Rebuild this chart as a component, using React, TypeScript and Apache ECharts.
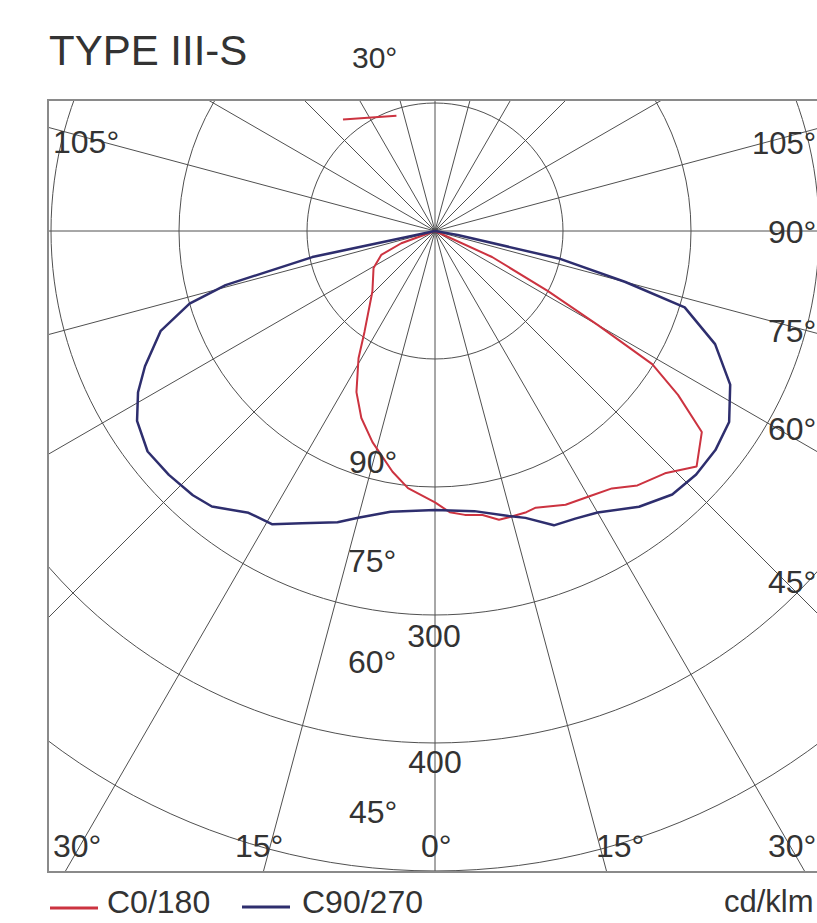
import React, { useEffect, useRef } from 'react';
import * as echarts from 'echarts';

// Gamma angles (deg, negative = left half, positive = right half) and intensities (cd/klm)
const c0Gamma = [-90, -70, -66, -59, -46, -35, -31, -26, -21.5, -16.5, -10, -6, 0, 3, 6, 9.5, 12.5, 14.5, 18, 20, 25.5, 30.5, 34.5, 38.5, 43.5, 48, 53, 56, 58.5, 60, 62, 65.5, 90];
const c0Values = [0, 28, 46, 56, 68, 96, 116, 140, 157, 172, 191, 202, 212, 220, 223, 225, 231, 231, 231, 230, 237, 240, 244, 254, 261, 275, 261, 229, 199, 147, 100, 49, 0];

const c0UpGamma = [-140.5, -161.5];
const c0UpValues = [113, 95];

const c90Gamma = [-90, -78, -75.5, -73.5, -70, -65, -61.5, -57.5, -52.5, -47.5, -42.5, -39, -33.5, -29, -24.5, -18.5, -15, -9, 0, 8, 14.5, 17.5, 22, 26, 30, 36.5, 42, 47, 52, 57, 62.5, 68, 73, 75, 77.5, 80, 90];
const c90Values = [0, 98, 169, 200, 228, 250, 264, 276, 283, 282, 280, 277, 264, 262, 251, 240, 232, 222, 218, 221, 230, 235, 248, 250, 254, 268, 277, 279, 278, 274, 260, 236, 204, 154, 99, 18, 0];

const seriesNames = ['C0/180', 'C90/270'];
const seriesColors = ['#cc3340', '#2e2e6e'];
const titleText = 'TYPE III-S';
const topLabel = '30°';
const rightAngleLabels = ['105°', '90°', '75°', '60°', '45°', '30°'];
const leftAngleLabels = ['105°'];
const bottomAngleLabels = ['30°', '15°', '0°', '15°'];
const innerAngleLabels = ['90°', '75°', '60°', '45°'];
const radiusLabels = ['300', '400'];
const unitLabel = 'cd/klm';

const FONT = "'Liberation Sans', Arial, sans-serif";
const TEXT = '#333';

function toPolar(gamma: number[], values: number[]) {
  return gamma.map((g, i) => {
    const theta = g <= 0 ? -g : 360 - g;
    return [values[i], theta];
  });
}

function txt(text: string, x: number, y: number, size = 32, align: string = 'left') {
  return {
    type: 'text',
    z: 110,
    silent: true,
    style: {
      text,
      x,
      y,
      fill: TEXT,
      fontSize: size,
      fontFamily: FONT,
      textAlign: align,
      textVerticalAlign: 'middle',
    },
  };
}

export default function App() {
  const ref = useRef<HTMLDivElement>(null);
  useEffect(() => {
    if (!ref.current) return;
    const chart = echarts.init(ref.current, undefined, { renderer: 'svg' });
    const grid = { color: '#505050', width: 1 };
    const rightPos = [[752, 143.5], [768, 231.5], [768, 330.5], [768, 428.5], [768, 581.5], [768, 845.5]];
    const bottomPos = [[53, 846], [235, 846], [421, 846], [596, 846]];
    const innerPos = [[349, 461.5], [348, 560.5], [348, 661.5], [349, 811.5]];
    const radiusPos = [[434, 635.5], [435, 761.5]];
    const legendPos = [[50, 107, 908], [242, 302, 907]];
    const graphics: any[] = [
      { type: 'rect', z: 100, silent: true, shape: { x: 0, y: 0, width: 817, height: 99 }, style: { fill: '#fff' } },
      { type: 'rect', z: 100, silent: true, shape: { x: 0, y: 0, width: 47, height: 923 }, style: { fill: '#fff' } },
      { type: 'rect', z: 100, silent: true, shape: { x: 0, y: 873, width: 817, height: 50 }, style: { fill: '#fff' } },
      {
        type: 'polyline', z: 101, silent: true,
        shape: { points: [[818, 100], [48, 100], [48, 872], [818, 872]] },
        style: { stroke: '#8a8a8a', lineWidth: 2, fill: null },
      },
      txt(titleText, 49, 50, 42),
      txt(topLabel, 352, 57.5, 30),
      txt(leftAngleLabels[0], 53, 141.5),
      ...rightAngleLabels.map((t, i) => txt(t, rightPos[i][0], rightPos[i][1], i === 0 ? 31 : 32)),
      ...bottomAngleLabels.map((t, i) => txt(t, bottomPos[i][0], bottomPos[i][1])),
      ...innerAngleLabels.map((t, i) => txt(t, innerPos[i][0], innerPos[i][1])),
      ...radiusLabels.map((t, i) => txt(t, radiusPos[i][0], radiusPos[i][1], 32, 'center')),
      ...seriesNames.flatMap((name, i) => [
        {
          type: 'rect', z: 110, silent: true,
          shape: { x: legendPos[i][0], y: legendPos[i][2] - 1.5, width: 48, height: 3 },
          style: { fill: seriesColors[i] },
        },
        txt(name, legendPos[i][1], 901.5),
      ]),
      txt(unitLabel, 724, 901.5, 31),
    ];
    chart.setOption({
      animation: false,
      backgroundColor: '#fff',
      polar: { center: [435, 231], radius: 768 },
      angleAxis: {
        type: 'value', min: 0, max: 360, interval: 15, startAngle: 270, clockwise: true,
        axisLine: { show: false }, axisTick: { show: false }, axisLabel: { show: false },
        splitLine: { show: true, lineStyle: grid },
      },
      radiusAxis: {
        type: 'value', min: 0, max: 600, interval: 100,
        axisLine: { show: false }, axisTick: { show: false }, axisLabel: { show: false },
        splitLine: { show: true, lineStyle: grid },
      },
      series: [
        {
          type: 'line', name: seriesNames[0], coordinateSystem: 'polar', data: toPolar(c0Gamma, c0Values),
          symbol: 'none', lineStyle: { color: seriesColors[0], width: 2 }, itemStyle: { color: seriesColors[0] }, z: 3,
        },
        {
          type: 'line', name: seriesNames[0], coordinateSystem: 'polar', data: toPolar(c0UpGamma, c0UpValues),
          symbol: 'none', lineStyle: { color: seriesColors[0], width: 2 }, itemStyle: { color: seriesColors[0] }, z: 3,
        },
        {
          type: 'line', name: seriesNames[1], coordinateSystem: 'polar', data: toPolar(c90Gamma, c90Values),
          symbol: 'none', lineStyle: { color: seriesColors[1], width: 2.5 }, itemStyle: { color: seriesColors[1] }, z: 4,
        },
      ],
      graphic: graphics,
    });
    return () => chart.dispose();
  }, []);
  return <div ref={ref} style={{ position: 'absolute', left: 0, top: 0, width: 817, height: 923 }} />;
}
